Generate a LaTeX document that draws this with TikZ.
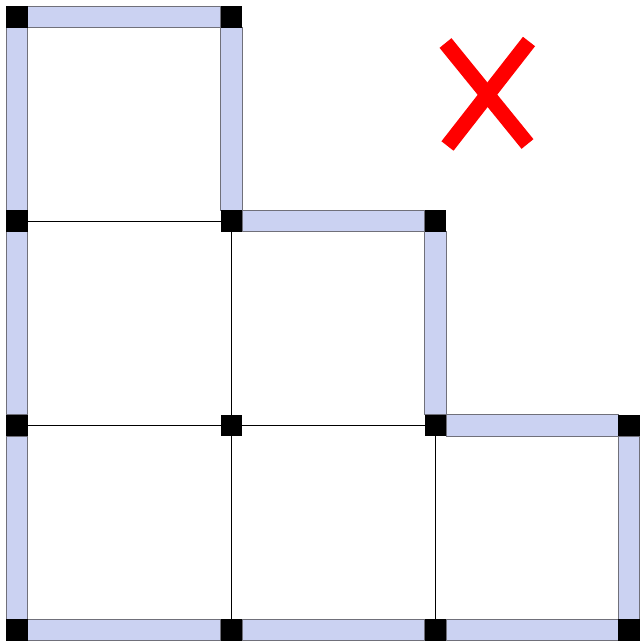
\documentclass[tikz,border=0pt]{standalone}
\usepackage{tikz}
\usepackage{xcolor}

\definecolor{barblue}{RGB}{203,210,242}
\definecolor{bargray}{RGB}{112,112,122}

\begin{document}
\begin{tikzpicture}[x=0.03cm, y=-0.03cm]

        % Fix the page to the size of the reference
        \useasboundingbox (0,0) rectangle (639,644);

        \tikzset{corner/.style={fill=black, rectangle, minimum size=0.62cm, inner sep=0pt},
                 bar/.style={fill=barblue, draw=bargray, line width=0.8pt},
                 gridline/.style={black, line width=0.7pt}}

        % 1. Place the corners of the staircase (columns of height 3, 2, 1)
        \node[corner] (c00) at (17, 17) {};
        \node[corner] (c10) at (231.5, 17) {};

        \node[corner] (c01) at (17, 221) {};
        \node[corner] (c11) at (231.5, 221) {};
        \node[corner] (c21) at (435.5, 221) {};

        \node[corner] (c02) at (17, 425.5) {};
        \node[corner] (c12) at (231.5, 425.5) {};
        \node[corner] (c22) at (435.5, 425.5) {};
        \node[corner] (c32) at (629, 425.5) {};

        \node[corner] (c03) at (17, 630) {};
        \node[corner] (c13) at (231.5, 630) {};
        \node[corner] (c23) at (435.5, 630) {};
        \node[corner] (c33) at (629, 630) {};

        % 2. Inner lines of the grid
        \draw[gridline] (c01) -- (c11);
        \draw[gridline] (c02) -- (c22);
        \draw[gridline] (c11) -- (c13);
        \draw[gridline] (c22) -- (c23);

        % 3. Bars along the outer edge
        % horizontal ones
        \draw[bar] (c00.north east) rectangle (c10.south west);
        \draw[bar] (c11.north east) rectangle (c21.south west);
        \draw[bar] (c22.north east) rectangle (c32.south west);
        \draw[bar] (c03.north east) rectangle (c13.south west);
        \draw[bar] (c13.north east) rectangle (c23.south west);
        \draw[bar] (c23.north east) rectangle (c33.south west);
        % vertical ones
        \draw[bar] (c00.south west) rectangle (c01.north east);
        \draw[bar] (c01.south west) rectangle (c02.north east);
        \draw[bar] (c02.south west) rectangle (c03.north east);
        \draw[bar] (c10.south west) rectangle (c11.north east);
        \draw[bar] (c21.south west) rectangle (c22.north east);
        \draw[bar] (c32.south west) rectangle (c33.north east);

        % 4. Corners again on top of the bars
        \foreach \c in {c00, c10, c01, c11, c21, c02, c12, c22, c32, c03, c13, c23, c33}
            \fill[black] (\c.south west) rectangle (\c.north east);

        % 5. The red cross
        \coordinate (crossA) at (445.5, 43);
        \coordinate (crossB) at (527.5, 144);
        \coordinate (crossC) at (529, 41.5);
        \coordinate (crossD) at (447.5, 146);
        \draw[red, line width=0.46cm] (crossA) -- (crossB);
        \draw[red, line width=0.46cm] (crossC) -- (crossD);

\end{tikzpicture}
\end{document}
